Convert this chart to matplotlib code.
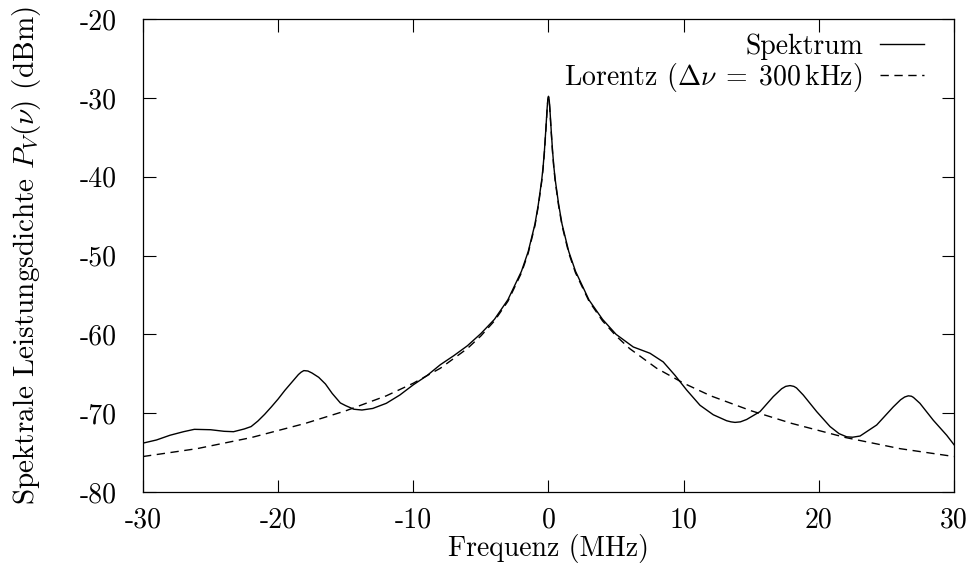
import numpy as np
import matplotlib.pyplot as plt

plt.rcParams['font.family'] = ['cmr10', 'DejaVu Serif']
plt.rcParams['mathtext.fontset'] = 'cm'
plt.rcParams['axes.unicode_minus'] = False
plt.rcParams['axes.formatter.use_mathtext'] = True

# Spectrum, frequency in MHz, power in dBm
spec_freq = [-30, -29, -28, -27, -26.2, -25, -24, -23.3, -22.5, -22, -21.5, -21,
             -20.5, -20, -19.5, -19, -18.5, -18.3, -18.1, -17.8, -17.5, -17, -16.5,
             -16, -15.4, -15, -14.4, -13.8, -13, -12, -11, -10, -9, -8, -7, -6, -5,
             -4, -3, -2, -1.5, -1, -0.75, -0.5, -0.4, -0.3, -0.2, -0.15, -0.1, -0.05,
             0, 0.05, 0.1, 0.15, 0.2, 0.3, 0.4, 0.5, 0.75, 1, 1.5, 2, 3, 4, 5, 6.27,
             7.51, 8.49, 9.36, 10.22, 11.21, 12.19, 13.18, 13.5, 13.8, 14.2, 14.66,
             15.65, 16.63, 17.25, 17.55, 17.87, 18.15, 18.35, 18.85, 19.84, 20.83,
             21.5, 22.06, 22.5, 23.05, 24.28, 25.51, 26.05, 26.35, 26.62, 26.85,
             27.0, 27.48, 28.47, 29.46, 30]
spec_db = [-73.8, -73.4, -72.8, -72.35, -72.05, -72.1, -72.3, -72.35, -72.0, -71.7,
           -71.0, -70.15, -69.2, -68.2, -67.1, -66.1, -65.1, -64.8, -64.6, -64.65,
           -64.9, -65.45, -66.3, -67.5, -68.7, -69.05, -69.5, -69.6, -69.4, -68.75,
           -67.7, -66.4, -65.25, -63.85, -62.7, -61.45, -59.9, -58.1, -55.6, -52.0,
           -49.5, -46.0, -43.5, -40.4, -38.8, -36.7, -34.1, -32.7, -31.3, -30.2,
           -29.8, -30.2, -31.3, -32.7, -34.1, -36.7, -38.8, -40.4, -43.5, -46.0,
           -49.5, -52.0, -55.65, -58.1, -60.0, -61.6, -62.4, -63.5, -65.2, -67.06,
           -69.0, -70.2, -70.96, -71.1, -71.17, -71.1, -70.8, -69.8, -67.9, -66.9,
           -66.6, -66.5, -66.6, -66.8, -67.7, -69.8, -71.7, -72.6, -73.0, -73.05,
           -72.9, -71.5, -69.2, -68.3, -67.95, -67.8, -67.85, -68.0, -68.75, -70.9,
           -72.8, -74.0]

# Lorentz fit (dashed)
lor_freq = [-30, -26, -22, -18, -15, -12, -10, -8, -6, -5, -4, -3, -2, -1.5, -1,
            -0.75, -0.5, -0.4, -0.3, -0.2, -0.15, -0.1, -0.05, 0, 0.05, 0.1, 0.15,
            0.2, 0.3, 0.4, 0.5, 0.75, 1, 1.5, 2, 3, 4, 5, 6, 8, 10, 12, 15, 18, 22,
            26, 30]
lor_db = [-75.5, -74.5, -73.1, -71.3, -69.7, -67.8, -66.2, -64.3, -61.8, -60.2,
          -58.3, -55.8, -52.2, -49.7, -46.2, -43.7, -40.6, -39.0, -36.9, -34.3,
          -32.9, -31.5, -30.3, -29.9, -30.3, -31.5, -32.9, -34.3, -36.9, -39.0,
          -40.6, -43.7, -46.2, -49.7, -52.2, -55.8, -58.3, -60.2, -61.8, -64.3,
          -66.2, -67.8, -69.7, -71.3, -73.1, -74.5, -75.5]

xticks = [-30, -20, -10, 0, 10, 20, 30]
yticks = [-80, -70, -60, -50, -40, -30, -20]

fig = plt.figure(figsize=(9.7, 5.68), dpi=100)
ax = fig.add_axes([0.1474, 0.1338, 0.8361, 0.8327])

ax.plot(spec_freq, spec_db, 'k-', lw=1.0, label='Spektrum')
ax.plot(lor_freq, lor_db, 'k--', lw=1.0, dashes=(6, 4),
        label=r'Lorentz ($\Delta\nu\;=\;300\,\mathrm{kHz}$)')

ax.set_xlim(-30, 30)
ax.set_ylim(-80, -20)
ax.set_xticks(xticks)
ax.set_xticklabels([str(t) for t in xticks])
ax.set_yticks(yticks)
ax.set_yticklabels([str(t) for t in yticks])
ax.tick_params(direction='in', length=9, width=0.8, top=True, right=True,
               labelsize=20)
ax.tick_params(axis='y', pad=19)
ax.tick_params(axis='x', pad=11)
for s in ax.spines.values():
    s.set_linewidth(0.9)

ax.set_xlabel('Frequenz (MHz)', fontsize=20, labelpad=0)
ax.set_ylabel(r'Spektrale Leistungsdichte $P_V(\nu)$ (dBm)', fontsize=21, labelpad=26)

ax.legend(loc='upper right', bbox_to_anchor=(0.987, 1.011), frameon=False,
          markerfirst=False, fontsize=20, handlelength=1.6, handletextpad=0.6,
          labelspacing=0.05, borderpad=0.2)

fig.savefig('out.png', dpi=100)
